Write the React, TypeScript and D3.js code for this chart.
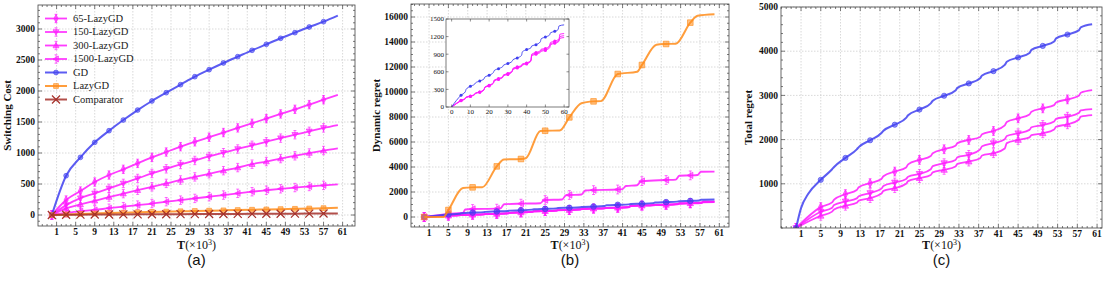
import React, { useEffect, useRef } from 'react';
import * as d3 from 'd3';

type Pt = [number, number];

const xTickValues = [1, 5, 9, 13, 17, 21, 25, 29, 33, 37, 41, 45, 49, 53, 57, 61];

// (a) switching cost, one sample every 3 (x10^3 rounds)
const costT = [0, 3, 6, 9, 12, 15, 18, 21, 24, 27, 30, 33, 36, 39, 42, 45, 48, 51, 54, 57, 60];
const costGD = [0, 634, 930, 1172, 1360, 1532, 1693, 1839, 1973, 2102, 2231, 2344, 2452, 2554, 2656, 2753, 2850, 2941, 3032, 3118, 3215];
const cost65 = [0, 242, 387, 532, 645, 737, 833, 930, 1016, 1102, 1180, 1255, 1330, 1405, 1480, 1555, 1630, 1705, 1780, 1860, 1936];
const cost150 = [0, 160, 272, 350, 430, 510, 590, 670, 745, 815, 880, 945, 1005, 1065, 1125, 1180, 1240, 1295, 1350, 1405, 1452];
const cost300 = [0, 108, 170, 230, 290, 345, 400, 455, 510, 565, 615, 665, 715, 765, 820, 862, 910, 955, 1000, 1040, 1075];
const cost1500 = [0, 35, 60, 82, 110, 135, 160, 185, 215, 240, 268, 295, 322, 350, 376, 400, 423, 443, 460, 478, 495];
const costLazy = [0, 10, 18, 25, 32, 38, 44, 50, 55, 60, 65, 70, 75, 80, 85, 90, 95, 100, 105, 111, 118];
const costComp = [0, 4, 6, 8, 9, 10, 11, 12, 13, 14, 15, 16, 17, 18, 19, 20, 21, 22, 23, 24, 25];

// (b) dynamic regret
const dynGD: Pt[] = [[0, 0], [2.5, 110], [5, 200], [7.3, 260], [7.7, 300], [10, 353], [12.3, 390], [12.7, 410], [15, 443], [17.3, 480], [17.7, 510], [20, 540], [22.3, 590], [22.7, 620], [25, 654], [27.3, 690], [27.7, 715], [30, 740], [32.3, 780], [32.7, 805], [35, 836], [37.3, 880], [37.7, 940], [40, 978], [42.3, 1010], [42.7, 1040], [45, 1063], [47.3, 1110], [47.7, 1160], [50, 1193], [52.3, 1230], [52.7, 1265], [55, 1290], [56.8, 1320], [57.2, 1380], [60, 1400]];
const dyn65: Pt[] = [[0, 0], [5, 114], [7.3, 150], [7.7, 170], [10, 188], [12.3, 220], [12.7, 240], [15, 257], [17.3, 300], [17.7, 340], [20, 371], [22.3, 420], [22.7, 460], [25, 485], [27.3, 520], [27.7, 550], [30, 570], [32.3, 620], [32.7, 660], [35, 684], [37.3, 710], [37.7, 735], [40, 752], [42.3, 800], [42.7, 900], [45, 930], [47.3, 960], [47.7, 985], [50, 998], [52.3, 1050], [52.7, 1100], [55, 1123], [57.3, 1160], [57.7, 1240], [60, 1252]];
const dyn150: Pt[] = [[0, 0], [5, 105], [7.3, 140], [7.7, 160], [10, 180], [12.3, 210], [12.7, 230], [15, 250], [17.3, 290], [17.7, 330], [20, 360], [22.3, 405], [22.7, 445], [25, 470], [27.3, 505], [27.7, 535], [30, 555], [32.3, 600], [32.7, 640], [35, 665], [37.3, 690], [37.7, 715], [40, 735], [42.3, 780], [42.7, 870], [45, 900], [47.3, 930], [47.7, 950], [50, 965], [52.3, 1010], [52.7, 1060], [55, 1085], [57.3, 1120], [57.7, 1170], [60, 1184]];
const dyn300: Pt[] = [[0, 0], [5, 110], [7.3, 145], [7.7, 165], [10, 185], [12.3, 215], [12.7, 235], [15, 255], [17.3, 295], [17.7, 335], [20, 365], [22.3, 410], [22.7, 450], [25, 478], [27.3, 512], [27.7, 542], [30, 562], [32.3, 610], [32.7, 650], [35, 675], [37.3, 700], [37.7, 725], [40, 745], [42.3, 790], [42.7, 885], [45, 915], [47.3, 945], [47.7, 968], [50, 980], [52.3, 1030], [52.7, 1080], [55, 1100], [57.3, 1140], [57.7, 1200], [60, 1215]];
const dyn1500: Pt[] = [[0, 0], [5, 250], [8, 330], [8.5, 600], [10, 640], [15, 667], [15.8, 700], [16.5, 1020], [20, 1067], [24, 1100], [24.7, 1333], [25, 1360], [28.5, 1400], [29.3, 1740], [30, 1760], [32.5, 1800], [33.3, 2120], [35, 2150], [40, 2200], [41, 2230], [41.7, 2480], [44, 2540], [44.7, 2830], [45, 2870], [50, 2960], [52, 2990], [52.7, 3300], [55, 3330], [56.5, 3360], [57.2, 3620], [60, 3630]];
const dynLazy: Pt[] = [[0, 0], [4, 0], [5, 560], [8, 2320], [10, 2370], [12, 2380], [15, 4050], [16.5, 4600], [20, 4640], [21, 4700], [24, 6880], [25, 6900], [28, 6920], [30, 7970], [32.5, 9100], [35, 9250], [36.5, 9270], [40, 11440], [44, 11620], [45, 12160], [48, 13780], [50, 13840], [52, 13860], [55, 15550], [56.5, 16100], [60, 16220]];

// (c) total regret
const totGD: Pt[] = [[0, 0], [1, 450], [2.5, 780], [5, 1090], [7.3, 1330], [7.7, 1380], [10, 1586], [12.3, 1780], [12.7, 1830], [15, 1985], [17.3, 2150], [17.7, 2200], [20, 2337], [22.3, 2490], [22.7, 2550], [25, 2680], [27.3, 2820], [27.7, 2880], [30, 2992], [32.3, 3110], [32.7, 3170], [35, 3271], [37.3, 3390], [37.7, 3450], [40, 3549], [42.3, 3690], [42.7, 3760], [45, 3858], [47.3, 3960], [47.7, 4030], [50, 4120], [52.3, 4220], [52.7, 4290], [55, 4377], [57.3, 4470], [57.7, 4540], [60, 4609]];
const tot65: Pt[] = [[0, 0], [5, 473], [7.3, 580], [7.7, 640], [10, 767], [12.3, 860], [12.7, 920], [15, 1015], [17.3, 1110], [17.7, 1170], [20, 1277], [22.3, 1370], [22.7, 1440], [25, 1541], [27.3, 1630], [27.7, 1690], [30, 1782], [32.3, 1860], [32.7, 1920], [35, 1992], [37.3, 2060], [37.7, 2120], [40, 2195], [42.3, 2320], [42.7, 2400], [45, 2481], [47.3, 2570], [47.7, 2630], [50, 2707], [52.3, 2780], [52.7, 2840], [55, 2910], [57.3, 2990], [57.7, 3060], [60, 3120]];
const tot150: Pt[] = [[0, 0], [5, 368], [7.3, 460], [7.7, 520], [10, 600], [12.3, 670], [12.7, 720], [15, 790], [17.3, 890], [17.7, 950], [20, 1029], [22.3, 1110], [22.7, 1160], [25, 1225], [27.3, 1330], [27.7, 1400], [30, 1466], [32.3, 1540], [32.7, 1600], [35, 1654], [37.3, 1780], [37.7, 1850], [40, 1918], [42.3, 2010], [42.7, 2080], [45, 2143], [47.3, 2220], [47.7, 2280], [50, 2330], [52.3, 2410], [52.7, 2470], [55, 2518], [57.3, 2600], [57.7, 2660], [60, 2691]];
const tot300: Pt[] = [[0, 0], [5, 277], [7.3, 370], [7.7, 420], [10, 503], [12.3, 570], [12.7, 620], [15, 677], [17.3, 780], [17.7, 840], [20, 902], [22.3, 1000], [22.7, 1060], [25, 1128], [27.3, 1200], [27.7, 1260], [30, 1315], [32.3, 1390], [32.7, 1450], [35, 1503], [37.3, 1580], [37.7, 1640], [40, 1692], [42.3, 1800], [42.7, 1920], [45, 1992], [47.3, 2050], [47.7, 2100], [50, 2143], [52.3, 2230], [52.7, 2290], [55, 2346], [57.3, 2450], [57.7, 2520], [60, 2556]];

const legendNames = ['65-LazyGD', '150-LazyGD', '300-LazyGD', '1500-LazyGD', 'GD', 'LazyGD', 'Comparator'];

const BLUE = '#3f3ff0';
const MAGENTA = '#ff1aff';
const ORANGE = '#ff8c1a';
const BROWN = '#a5302a';
const SERIF = 'Liberation Serif, Times New Roman, serif';

const shapePath = (shape, r) => {
    switch (shape) {
        case 'circle': return `M${r},0A${r},${r},0,1,1,${-r},0A${r},${r},0,1,1,${r},0Z`;
        case 'diamond': return `M0,${-1.35 * r}L${0.7 * r},0L0,${1.35 * r}L${-0.7 * r},0Z`;
        case 'down': return `M${-r},${-0.75 * r}L${r},${-0.75 * r}L0,${r}Z`;
        case 'up': return `M${-r},${0.75 * r}L${r},${0.75 * r}L0,${-r}Z`;
        case 'left': return `M${-r},0L${0.8 * r},${-r}L${0.8 * r},${r}Z`;
        case 'square': return `M${-r},${-r}H${r}V${r}H${-r}Z`;
        case 'x': return `M${-r},${-r}L${r},${r}M${-r},${r}L${r},${-r}`;
    }
    return '';
};

const zip = (ts, vs): Pt[] => ts.map((t, i) => [t, vs[i]]);

function drawMarker(g, shape, color, r, err, cx, cy) {
    if (err) {
        const e = r + 1.2;
        g.append('path')
            .attr('d', `M${cx},${cy - e}V${cy + e}M${cx - 1.5},${cy - e}H${cx + 1.5}M${cx - 1.5},${cy + e}H${cx + 1.5}`)
            .attr('stroke', color).attr('stroke-opacity', 0.8).attr('stroke-width', 0.8).attr('fill', 'none');
    }
    const p = g.append('path')
        .attr('d', shapePath(shape, r))
        .attr('transform', `translate(${cx},${cy})`);
    if (shape === 'x') {
        p.attr('fill', 'none').attr('stroke', color).attr('stroke-width', 1.2);
    } else {
        p.attr('fill', color).attr('fill-opacity', 0.55).attr('stroke', color).attr('stroke-opacity', 0.8).attr('stroke-width', 0.8);
    }
}

function drawPanel(svg, p, idx) {
    const x = d3.scaleLinear().domain(p.xDomain).range([p.left, p.right]);
    const y = d3.scaleLinear().domain(p.yDomain).range([p.bottom, p.top]);
    const g = svg.append('g');
    const clipId = 'clip' + idx;

    g.append('clipPath').attr('id', clipId)
        .append('rect')
        .attr('x', p.left).attr('y', p.top)
        .attr('width', p.right - p.left).attr('height', p.bottom - p.top);

    // grid
    g.selectAll('.gx').data(p.xTicks).join('line')
        .attr('x1', d => x(d)).attr('x2', d => x(d))
        .attr('y1', p.top).attr('y2', p.bottom)
        .attr('stroke', '#c9c9c9').attr('stroke-width', 0.7).attr('stroke-dasharray', '1.5,1.5');
    g.selectAll('.gy').data(p.yTicks).join('line')
        .attr('x1', p.left).attr('x2', p.right)
        .attr('y1', d => y(d)).attr('y2', d => y(d))
        .attr('stroke', '#c9c9c9').attr('stroke-width', 0.7).attr('stroke-dasharray', '1.5,1.5');

    const plot = g.append('g').attr('clip-path', `url(#${clipId})`);
    const line = d3.line<Pt>().x(d => x(d[0])).y(d => y(d[1])).curve(d3.curveMonotoneX);

    p.series.forEach(s => {
        plot.append('path')
            .attr('d', line(s.pts))
            .attr('fill', 'none')
            .attr('stroke', s.color)
            .attr('stroke-opacity', 0.85)
            .attr('stroke-width', s.lw);
        s.pts.filter(d => d[0] % p.markEvery === 0 && d[0] < 60).forEach(d => {
            drawMarker(plot, s.shape, s.color, s.r, s.err, x(d[0]), y(d[1]));
        });
    });

    // frame
    g.append('rect')
        .attr('x', p.left).attr('y', p.top)
        .attr('width', p.right - p.left).attr('height', p.bottom - p.top)
        .attr('fill', 'none').attr('stroke', '#444').attr('stroke-width', 0.8);

    // ticks, inward on all four sides
    const tk = g.append('g').attr('stroke', '#444').attr('stroke-width', 0.7);
    const xMinor = d3.range(Math.ceil(p.xDomain[0]), p.xDomain[1], 1);
    const yMinor = d3.range(Math.ceil(p.yDomain[0] / p.yMinor) * p.yMinor, p.yDomain[1], p.yMinor);
    xMinor.forEach(v => {
        const len = p.xTicks.includes(v) ? 4 : 2;
        tk.append('line').attr('x1', x(v)).attr('x2', x(v)).attr('y1', p.bottom).attr('y2', p.bottom - len);
        tk.append('line').attr('x1', x(v)).attr('x2', x(v)).attr('y1', p.top).attr('y2', p.top + len);
    });
    yMinor.forEach(v => {
        const len = p.yTicks.includes(v) ? 4 : 2;
        tk.append('line').attr('x1', p.left).attr('x2', p.left + len).attr('y1', y(v)).attr('y2', y(v));
        tk.append('line').attr('x1', p.right).attr('x2', p.right - len).attr('y1', y(v)).attr('y2', y(v));
    });

    // tick labels
    g.selectAll('.xl').data(p.xTicks).join('text')
        .attr('x', d => x(d)).attr('y', p.bottom + 9)
        .attr('text-anchor', 'middle')
        .attr('font-family', SERIF).attr('font-weight', 'bold').attr('font-size', 9.5)
        .attr('fill', '#111')
        .text(d => d);
    g.selectAll('.yl').data(p.yTicks).join('text')
        .attr('x', p.left - 3).attr('y', d => y(d)).attr('dy', '0.33em')
        .attr('text-anchor', 'end')
        .attr('font-family', SERIF).attr('font-weight', 'bold').attr('font-size', 9.5)
        .attr('fill', '#111')
        .text(d => d);

    // axis titles
    const cx = (p.left + p.right) / 2;
    const xt = g.append('text')
        .attr('x', cx).attr('y', 249)
        .attr('text-anchor', 'middle')
        .attr('font-family', SERIF).attr('font-size', 12)
        .attr('fill', '#111');
    xt.append('tspan').attr('font-weight', 'bold').text('T');
    xt.append('tspan').text('(×10');
    xt.append('tspan').attr('dy', -4).attr('font-size', 8).text('3');
    xt.append('tspan').attr('dy', 4).text(')');

    g.append('text')
        .attr('transform', `translate(${p.yTitleX},${(p.top + p.bottom) / 2}) rotate(-90)`)
        .attr('text-anchor', 'middle')
        .attr('font-family', SERIF).attr('font-weight', 'bold').attr('font-size', 11)
        .attr('fill', '#111')
        .text(p.yTitle);

    g.append('text')
        .attr('x', cx).attr('y', 265)
        .attr('text-anchor', 'middle')
        .attr('font-family', 'Liberation Sans, Arial, sans-serif').attr('font-size', 15)
        .attr('fill', '#111')
        .text(p.caption);

    return { x, y };
}

function drawInset(svg, series) {
    const left = 446, right = 569, top = 19, bottom = 107;
    const x = d3.scaleLinear().domain([-3, 62.6]).range([left, right]);
    const y = d3.scaleLinear().domain([0, 1500]).range([bottom, top]);
    const g = svg.append('g');
    g.append('rect')
        .attr('x', left).attr('y', top).attr('width', right - left).attr('height', bottom - top)
        .attr('fill', '#fff');
    g.append('clipPath').attr('id', 'clipInset')
        .append('rect').attr('x', left).attr('y', top).attr('width', right - left).attr('height', bottom - top);
    const plot = g.append('g').attr('clip-path', 'url(#clipInset)');
    const line = d3.line<Pt>().x(d => x(d[0])).y(d => y(d[1])).curve(d3.curveMonotoneX);
    series.forEach(s => {
        plot.append('path').attr('d', line(s.pts))
            .attr('fill', 'none').attr('stroke', s.color).attr('stroke-opacity', 0.9).attr('stroke-width', 1);
        s.pts.filter(d => d[0] % 5 === 0 && d[0] > 0 && d[0] < 60).forEach(d => {
            plot.append('path').attr('d', shapePath('circle', 1.5))
                .attr('transform', `translate(${x(d[0])},${y(d[1])})`)
                .attr('fill', s.color);
        });
    });
    g.append('rect')
        .attr('x', left).attr('y', top).attr('width', right - left).attr('height', bottom - top)
        .attr('fill', 'none').attr('stroke', '#444').attr('stroke-width', 0.7);
    const xt = [0, 10, 20, 30, 40, 50, 60];
    const yt = [0, 300, 600, 900, 1200, 1500];
    const tk = g.append('g').attr('stroke', '#444').attr('stroke-width', 0.6);
    xt.forEach(v => {
        tk.append('line').attr('x1', x(v)).attr('x2', x(v)).attr('y1', bottom).attr('y2', bottom - 2.5);
        tk.append('line').attr('x1', x(v)).attr('x2', x(v)).attr('y1', top).attr('y2', top + 2.5);
    });
    yt.forEach(v => {
        tk.append('line').attr('x1', left).attr('x2', left + 2.5).attr('y1', y(v)).attr('y2', y(v));
        tk.append('line').attr('x1', right).attr('x2', right - 2.5).attr('y1', y(v)).attr('y2', y(v));
    });
    g.selectAll('.ixl').data(xt).join('text')
        .attr('x', d => x(d)).attr('y', bottom + 7)
        .attr('text-anchor', 'middle')
        .attr('font-family', SERIF).attr('font-size', 7).attr('fill', '#111')
        .text(d => d);
    g.selectAll('.iyl').data(yt).join('text')
        .attr('x', left - 2).attr('y', d => y(d)).attr('dy', '0.33em')
        .attr('text-anchor', 'end')
        .attr('font-family', SERIF).attr('font-size', 7).attr('fill', '#111')
        .text(d => d);
}

const App = () => {
    const svgRef = useRef(null);

    useEffect(() => {
        const svg = d3.select(svgRef.current);
        svg.selectAll('*').remove();

        const costSeries = [
            { pts: zip(costT, cost65), color: MAGENTA, shape: 'diamond', r: 3, lw: 1.8, err: true },
            { pts: zip(costT, cost150), color: MAGENTA, shape: 'down', r: 3, lw: 1.8, err: true },
            { pts: zip(costT, cost300), color: MAGENTA, shape: 'up', r: 3, lw: 1.8, err: true },
            { pts: zip(costT, cost1500), color: MAGENTA, shape: 'left', r: 3, lw: 1.8, err: true },
            { pts: zip(costT, costGD), color: BLUE, shape: 'circle', r: 2.4, lw: 2, err: false },
            { pts: zip(costT, costLazy), color: ORANGE, shape: 'square', r: 2.4, lw: 2, err: false },
            { pts: zip(costT, costComp), color: BROWN, shape: 'x', r: 4, lw: 2, err: false },
        ];

        drawPanel(svg, {
            left: 38, right: 355, top: 5, bottom: 226,
            xDomain: [-2.9, 63.6], yDomain: [-177, 3387],
            xTicks: xTickValues, yTicks: [0, 500, 1000, 1500, 2000, 2500, 3000], yMinor: 100,
            markEvery: 3, series: costSeries,
            yTitle: 'Switching Cost', yTitleX: 11, caption: '(a)',
        }, 0);

        // legend
        const lg = svg.append('g');
        costSeries.forEach((s, i) => {
            const ly = 18.5 + i * 13.5;
            lg.append('line').attr('x1', 45).attr('x2', 67).attr('y1', ly).attr('y2', ly)
                .attr('stroke', s.color).attr('stroke-opacity', 0.85).attr('stroke-width', s.lw);
            drawMarker(lg, s.shape, s.color, s.r, s.err, 56, ly);
            lg.append('text').attr('x', 73).attr('y', ly).attr('dy', '0.33em')
                .attr('font-family', SERIF).attr('font-size', 10.5).attr('fill', '#222')
                .text(legendNames[i]);
        });

        drawPanel(svg, {
            left: 411, right: 729, top: 4, bottom: 227,
            xDomain: [-2.73, 63.0], yDomain: [-800, 17040],
            xTicks: xTickValues, yTicks: [0, 2000, 4000, 6000, 8000, 10000, 12000, 14000, 16000], yMinor: 500,
            markEvery: 5,
            series: [
                { pts: dyn65, color: MAGENTA, shape: 'diamond', r: 3.2, lw: 1.8, err: true },
                { pts: dyn150, color: MAGENTA, shape: 'down', r: 3.2, lw: 1.8, err: true },
                { pts: dyn300, color: MAGENTA, shape: 'up', r: 3.2, lw: 1.8, err: true },
                { pts: dyn1500, color: MAGENTA, shape: 'left', r: 3.2, lw: 1.8, err: true },
                { pts: dynGD, color: BLUE, shape: 'circle', r: 2.8, lw: 2, err: false },
                { pts: dynLazy, color: ORANGE, shape: 'square', r: 2.8, lw: 2, err: false },
            ],
            yTitle: 'Dynamic regret', yTitleX: 380, caption: '(b)',
        }, 1);

        drawInset(svg, [
            { pts: dyn65, color: MAGENTA },
            { pts: dyn150, color: MAGENTA },
            { pts: dyn300, color: MAGENTA },
            { pts: dynGD, color: BLUE },
        ]);

        drawPanel(svg, {
            left: 781, right: 1102, top: 7, bottom: 228,
            xDomain: [-3.06, 62.0], yDomain: [0, 5000],
            xTicks: xTickValues, yTicks: [1000, 2000, 3000, 4000, 5000], yMinor: 200,
            markEvery: 5,
            series: [
                { pts: tot65, color: MAGENTA, shape: 'diamond', r: 3.2, lw: 1.8, err: true },
                { pts: tot150, color: MAGENTA, shape: 'down', r: 3.2, lw: 1.8, err: true },
                { pts: tot300, color: MAGENTA, shape: 'up', r: 3.2, lw: 1.8, err: true },
                { pts: totGD, color: BLUE, shape: 'circle', r: 2.6, lw: 2, err: false },
            ],
            yTitle: 'Total regret', yTitleX: 752, caption: '(c)',
        }, 2);
    }, []);

    return (
        <svg ref={svgRef} width={1110} height={281}
            style={{ position: 'absolute', left: 0, top: 0, background: '#fff' }} />
    );
};

export default App;
